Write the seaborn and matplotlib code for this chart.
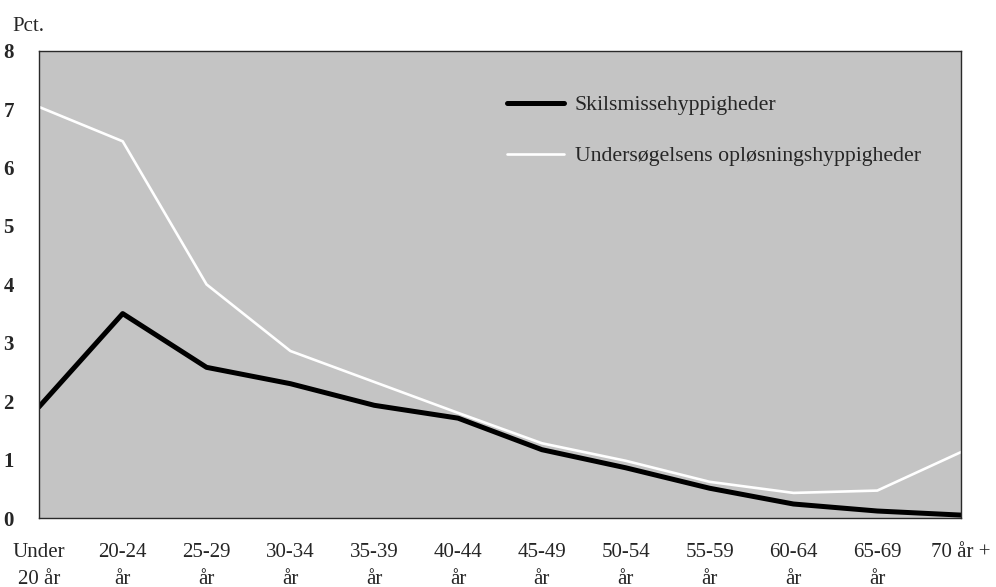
import pandas as pd
import matplotlib
matplotlib.use("Agg")
import matplotlib.pyplot as plt
import seaborn as sns

# Age groups and rates (pct.)
age_groups = ["Under\n20 år", "20-24\når", "25-29\når", "30-34\når", "35-39\når", "40-44\når",
              "45-49\når", "50-54\når", "55-59\når", "60-64\når", "65-69\når", "70 år +"]
divorce = [1.9, 3.5, 2.58, 2.3, 1.93, 1.71, 1.17, 0.86, 0.51, 0.24, 0.12, 0.05]
dissolution = [7.04, 6.45, 4.0, 2.86, 2.33, 1.8, 1.28, 0.98, 0.62, 0.43, 0.47, 1.13]
series_names = ["Skilsmissehyppigheder", "Undersøgelsens opløsningshyppigheder"]

df = pd.DataFrame({
    "pos": list(range(len(age_groups))) * 2,
    "value": divorce + dissolution,
    "series": [series_names[0]] * len(age_groups) + [series_names[1]] * len(age_groups),
})

sns.set_style("white")
plt.rcParams["font.family"] = ["Liberation Serif", "DejaVu Serif"]

fig = plt.figure(figsize=(9.96, 5.87), dpi=100)
ax = fig.add_axes([0.039, 0.1175, 0.926, 0.796])
ax.set_facecolor("#c4c4c4")

sns.lineplot(data=df, x="pos", y="value", hue="series", hue_order=series_names,
             palette=["black", "white"], ax=ax, legend=True)
for line, lw in zip(ax.lines, [3.6, 1.9]):
    line.set_linewidth(lw)

ax.set_xlim(0, len(age_groups) - 1)
ax.set_ylim(0, 8)
ax.set_xticks(range(len(age_groups)))
ax.set_xticklabels(age_groups, fontsize=15, linespacing=1.55, va="top")
ax.set_yticks(range(0, 9))
ax.set_yticklabels([str(i) for i in range(0, 9)], fontsize=15, fontweight="bold")
ax.tick_params(axis="both", length=0)
ax.tick_params(axis="x", pad=18)
ax.tick_params(axis="y", pad=18)
ax.set_xlabel("")
ax.set_ylabel("")
for s in ax.spines.values():
    s.set_color("#2a2a2a")
    s.set_linewidth(1.0)

leg = ax.legend(loc="upper left", bbox_to_anchor=(0.508, 0.905), frameon=False,
                fontsize=15.7, handlelength=2.6, handletextpad=0.5,
                labelspacing=1.4, borderaxespad=0, borderpad=0)
for h, lw in zip(leg.get_lines(), [3.6, 1.9]):
    h.set_linewidth(lw)

fig.text(0.012, 0.955, "Pct.", fontsize=15, ha="left", va="center")

fig.savefig("out.png", dpi=100)
